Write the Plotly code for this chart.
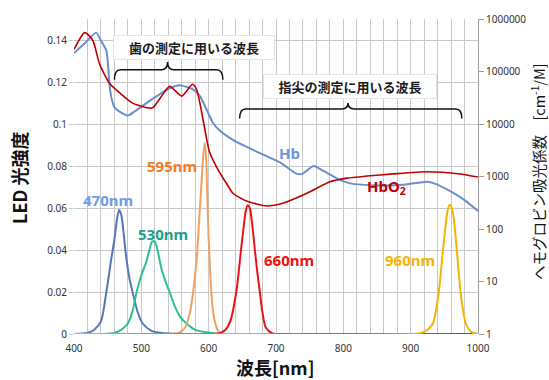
import plotly.graph_objects as go

# --- LED emission spectra (relative intensity, left axis) ---
led470_nm = [400, 420, 430, 440, 448, 455, 460, 464, 467, 470, 473, 477, 482, 487, 495, 502, 515, 530, 560, 1000]
led470_val = [0, 0.0005, 0.002, 0.006, 0.02, 0.035, 0.045, 0.055, 0.059, 0.057, 0.05, 0.038, 0.027, 0.02, 0.01, 0.005, 0.0015, 0.0005, 0, 0]

led530_nm = [400, 440, 460, 470, 480, 487, 493, 500, 507, 512, 516, 520, 524, 530, 537, 542, 550, 558, 567, 580, 600, 620, 1000]
led530_val = [0, 0, 0.0005, 0.002, 0.005, 0.011, 0.02, 0.028, 0.034, 0.04, 0.044, 0.044, 0.04, 0.031, 0.024, 0.02, 0.013, 0.008, 0.005, 0.002, 0.0007, 0, 0]

led595_nm = [400, 540, 555, 565, 572, 577, 582, 586, 589, 592, 594, 596, 598, 600, 603, 606, 610, 615, 625, 1000]
led595_val = [0, 0, 0.0005, 0.003, 0.01, 0.02, 0.035, 0.055, 0.07, 0.085, 0.091, 0.085, 0.065, 0.045, 0.025, 0.012, 0.005, 0.001, 0, 0]

led660_nm = [400, 600, 615, 625, 632, 641, 648, 652, 655, 658, 661, 664, 668, 672, 676, 680, 685, 695, 710, 1000]
led660_val = [0, 0, 0.0003, 0.002, 0.006, 0.02, 0.04, 0.051, 0.0585, 0.0613, 0.06, 0.054, 0.042, 0.03, 0.02, 0.01, 0.003, 0.0003, 0, 0]

led960_nm = [400, 900, 915, 925, 933, 941, 948, 952, 955, 958, 961, 964, 968, 972, 976, 982, 990, 1000]
led960_val = [0, 0, 0.0005, 0.002, 0.005, 0.018, 0.04, 0.052, 0.059, 0.0615, 0.0602, 0.055, 0.042, 0.027, 0.015, 0.005, 0.001, 0]

# --- Hemoglobin molar absorption coefficients [cm^-1/M] (right axis, log) ---
hb_nm = [400, 416, 433, 440, 448, 453, 456, 460, 470, 480, 490, 500, 510, 523, 542, 557, 576, 587, 601, 606,
         616, 636, 656, 680, 706, 731, 739, 756, 771, 791, 810, 854, 890, 925, 935, 960, 980, 1000]
hb_val = [224000, 346000, 550000, 390000, 251000, 52000, 30000, 21000, 16500, 14500, 17300, 21300, 26400, 34000,
          48000, 55000, 46000, 34000, 14500, 10700, 7600, 5000, 3700, 2630, 1860, 1120, 1120, 1580, 1260, 910,
          740, 676, 700, 795, 740, 515, 355, 220]

hbo2_nm = [400, 416, 428, 438, 453, 468, 487, 508, 517, 532, 542, 560, 576, 582, 587, 594, 601, 612, 627, 636,
           656, 686, 710, 746, 780, 805, 835, 874, 924, 973, 1000]
hbo2_val = [263000, 550000, 390000, 138000, 59000, 39000, 25000, 20400, 20400, 37000, 52500, 34000, 57000, 45700,
            25000, 8300, 3000, 1500, 720, 480, 340, 275, 310, 480, 790, 930, 1020, 1120, 1230, 1120, 980]

y_ticks = [0, 0.02, 0.04, 0.06, 0.08, 0.1, 0.12, 0.14]
y_ticktext = ["0", "0.02", "0.04", "0.06", "0.08", "0.1", "0.12", "0.14"]
y2_ticks = [1, 10, 100, 1000, 10000, 100000, 1000000]
x_ticks = [400, 500, 600, 700, 800, 900, 1000]

JP = "Noto Sans CJK JP"
NUM = "Noto Sans, Noto Sans CJK JP"

fig = go.Figure()

leds = [
    (led470_nm, led470_val, "#5577b6"),
    (led530_nm, led530_val, "#2fc08e"),
    (led595_nm, led595_val, "#f2a062"),
    (led660_nm, led660_val, "#e81414"),
    (led960_nm, led960_val, "#f4b400"),
]
for nm, val, col in leds:
    fig.add_trace(go.Scatter(x=nm, y=val, mode="lines",
                             line=dict(color=col, width=2, shape="spline", smoothing=0.8),
                             hoverinfo="skip", showlegend=False))

fig.add_trace(go.Scatter(x=hb_nm, y=hb_val, yaxis="y2", mode="lines",
                         line=dict(color="#6b8fcc", width=2, shape="spline", smoothing=0.6),
                         showlegend=False))
fig.add_trace(go.Scatter(x=hbo2_nm, y=hbo2_val, yaxis="y2", mode="lines",
                         line=dict(color="#c00000", width=1.6, shape="spline", smoothing=0.6),
                         showlegend=False))


def brace(x0, x1, xc, y_end, y_mid, y_tip, r):
    return (f"M {x0},{y_end} Q {x0},{y_mid} {x0 + r},{y_mid} L {xc - r},{y_mid} "
            f"Q {xc},{y_mid} {xc},{y_tip} Q {xc},{y_mid} {xc + r},{y_mid} "
            f"L {x1 - r},{y_mid} Q {x1},{y_mid} {x1},{y_end}")


shapes = [
    dict(type="path", xref="x", yref="y", path=brace(460, 621, 539, 0.1211, 0.1258, 0.1295, 9),
         line=dict(color="#111111", width=1.5)),
    dict(type="path", xref="x", yref="y", path=brace(646, 976, 807, 0.1026, 0.1072, 0.1100, 9),
         line=dict(color="#111111", width=1.5)),
]

annotations = [
    dict(x=578, y=0.1364, xref="x", yref="y", text="歯の測定に用いる波長", showarrow=False,
         font=dict(family=JP, size=13, color="#1a1a1a", weight="bold"),
         bgcolor="white", bordercolor="#e4e4e4", borderwidth=1, width=156, height=19, borderpad=2),
    dict(x=809.6, y=0.1179, xref="x", yref="y", text="指尖の測定に用いる波長", showarrow=False,
         font=dict(family=JP, size=13, color="#1a1a1a", weight="bold"),
         bgcolor="white", bordercolor="#e4e4e4", borderwidth=1, width=168, height=19, borderpad=2),
    dict(x=450, y=0.0636, text="470nm", font=dict(color="#6e9de6")),
    dict(x=531.6, y=0.0474, text="530nm", font=dict(color="#17a090")),
    dict(x=545, y=0.0798, text="595nm", font=dict(color="#f47c20")),
    dict(x=720, y=0.0354, text="660nm", font=dict(color="#f01010")),
    dict(x=899, y=0.0354, text="960nm", font=dict(color="#f5b400")),
    dict(x=720, y=0.0860, text="Hb", font=dict(color="#6b96d8")),
    dict(x=864, y=0.0700, text="HbO<sub>2</sub>", font=dict(color="#c00000")),
    # axis titles
    dict(x=19, y=174, xref="paper", yref="paper", text="LED 光強度", textangle=-90,
         font=dict(family=JP, size=18, color="#111111", weight="bold")),
    dict(x=538, y=168, xref="paper", yref="paper", text="ヘモグロビン吸光係数\u3000[cm<sup>-1</sup>/M]",
         textangle=-90, font=dict(family=JP, size=14.5, color="#111111")),
    dict(x=275, y=368, xref="paper", yref="paper", text="波長[nm]",
         font=dict(family=JP, size=18, color="#111111", weight="bold")),
]

W, H = 549, 380
ML, MR, MT, MB = 74, 71, 11, 46
for a in annotations:
    a.setdefault("showarrow", False)
    if a.get("xref") == "paper":
        # pixel positions -> paper fractions
        a["x"] = (a["x"] - ML) / (W - ML - MR)
        a["y"] = 1 - (a["y"] - MT) / (H - MT - MB)
        a["xanchor"] = "center"
        a["yanchor"] = "middle"
    else:
        a.setdefault("xref", "x")
        a.setdefault("yref", "y")
        f = a["font"]
        f.setdefault("family", NUM)
        f.setdefault("size", 15)
        f.setdefault("weight", "bold")

fig.update_layout(
    width=W, height=H,
    margin=dict(l=ML, r=MR, t=MT, b=MB, pad=0),
    paper_bgcolor="white", plot_bgcolor="white",
    showlegend=False,
    shapes=shapes,
    annotations=annotations,
    xaxis=dict(range=[400, 1000], tickvals=x_ticks, showgrid=True, gridcolor="#c8c8c8", gridwidth=1,
               minor=dict(dtick=20, tick0=400, showgrid=True, gridcolor="#c8c8c8", gridwidth=1),
               zeroline=False, showline=False, ticks="", ticklabelstandoff=7,
               tickfont=dict(family=NUM, size=10, color="#333333")),
    yaxis=dict(range=[0, 0.15], tickvals=y_ticks, ticktext=y_ticktext, showgrid=True,
               gridcolor="#c8c8c8", gridwidth=1, zeroline=False, showline=False,
               ticks="outside", ticklen=4, tickcolor="#c8c8c8",
               tickfont=dict(family=NUM, size=10, color="#333333")),
    yaxis2=dict(type="log", range=[0, 6], overlaying="y", side="right", anchor="x",
                tickvals=y2_ticks, ticktext=[str(v) for v in y2_ticks], showgrid=False,
                zeroline=False, showline=True, linecolor="#9e9e9e", linewidth=1,
                ticks="outside", ticklen=5, tickcolor="#9e9e9e",
                tickfont=dict(family=NUM, size=10, color="#333333")),
)

fig.write_html("out.html")
